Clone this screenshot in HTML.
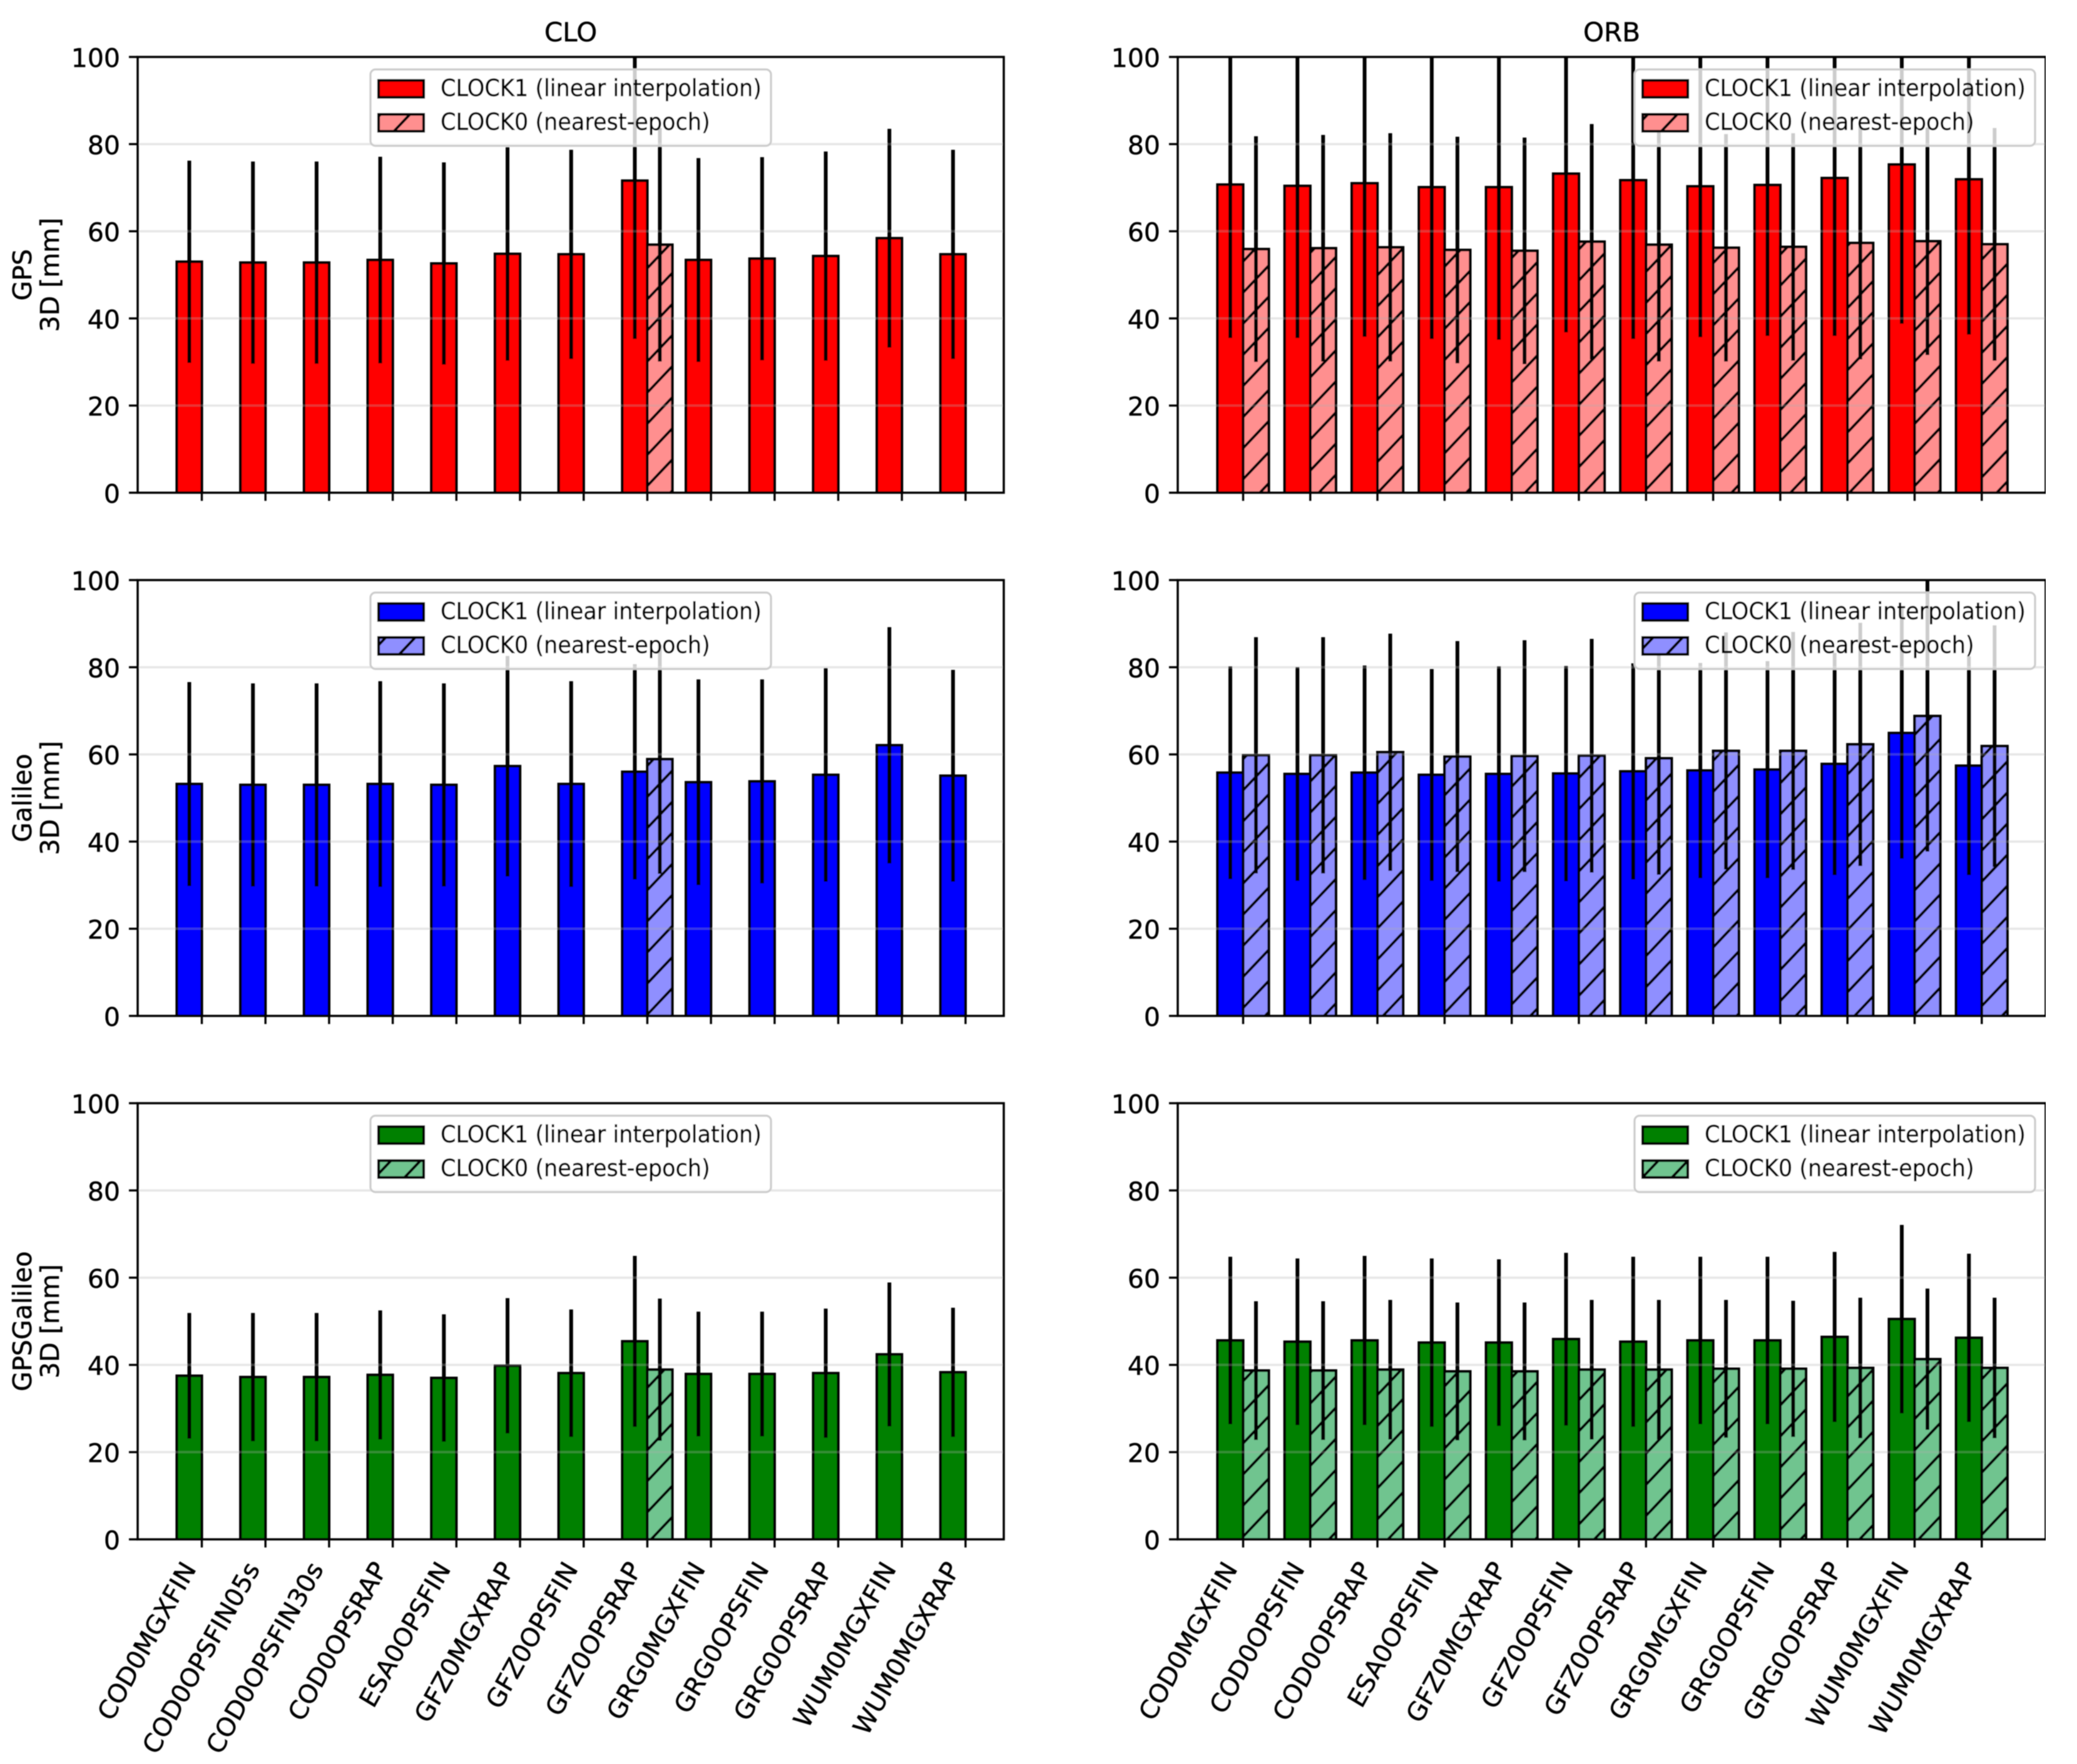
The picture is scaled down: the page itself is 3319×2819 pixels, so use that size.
<!DOCTYPE html>
<html lang="en">
<head>
<meta charset="utf-8">
<title>CLOCK1 vs CLOCK0 3D errors</title>
<style>
html,body{margin:0;padding:0;background:#fff;}
svg{display:block;}
text{font-family:"DejaVu Sans","Liberation Sans",sans-serif;fill:#000;stroke:#000;stroke-width:0.5px;}
</style>
</head>
<body>
<svg id="figure" xmlns="http://www.w3.org/2000/svg" width="3319" height="2819" viewBox="0 0 3319 2819">
<defs>
<pattern id="hatch" patternUnits="userSpaceOnUse" x="3168" y="2352" width="47.1" height="49.7">
<path d="M-4,4 L4,-4 M0,49.7 L47.1,0 M43.1,53.7 L51.1,45.7" stroke="#000" stroke-width="4.2" fill="none"/>
</pattern>
<filter id="soft" x="0" y="0" width="100%" height="100%"><feGaussianBlur stdDeviation="0.7"/></filter>
</defs>
<g id="root" filter="url(#soft)"></g>
</svg>
<script>
const categoriesCLO = ["COD0MGXFIN","COD0OPSFIN05s","COD0OPSFIN30s","COD0OPSRAP","ESA0OPSFIN","GFZ0MGXRAP","GFZ0OPSFIN","GFZ0OPSRAP","GRG0MGXFIN","GRG0OPSFIN","GRG0OPSRAP","WUM0MGXFIN","WUM0MGXRAP"];
const categoriesORB = ["COD0MGXFIN","COD0OPSFIN","COD0OPSRAP","ESA0OPSFIN","GFZ0MGXRAP","GFZ0OPSFIN","GFZ0OPSRAP","GRG0MGXFIN","GRG0OPSFIN","GRG0OPSRAP","WUM0MGXFIN","WUM0MGXRAP"];
const yTickValues = [0,20,40,60,80,100];
const legendLabels = ["CLOCK1 (linear interpolation)","CLOCK0 (nearest-epoch)"];

const gpsCloClock1 = [53.0,52.8,52.8,53.4,52.6,54.8,54.7,71.6,53.4,53.7,54.3,58.4,54.7];
const gpsCloClock1Err = [23.2,23.2,23.2,23.7,23.2,24.5,24.0,36.3,23.4,23.3,24.0,25.1,24.0];
const gpsCloClock0 = [null,null,null,null,null,null,null,56.9,null,null,null,null,null];
const gpsCloClock0Err = [null,null,null,null,null,null,null,26.8,null,null,null,null,null];

const gpsOrbClock1 = [70.7,70.4,71.0,70.1,70.1,73.2,71.7,70.3,70.6,72.2,75.3,71.9];
const gpsOrbClock1Err = [35.2,34.9,35.2,34.8,35.0,36.4,36.4,34.6,34.6,36.2,36.5,35.6];
const gpsOrbClock0 = [55.9,56.1,56.3,55.7,55.5,57.6,56.9,56.2,56.4,57.3,57.7,57.0];
const gpsOrbClock0Err = [25.9,26.0,26.2,26.0,26.0,27.0,26.8,26.1,26.1,26.7,26.1,26.7];

const galCloClock1 = [53.2,53.0,53.0,53.2,53.0,57.3,53.2,56.0,53.6,53.8,55.3,62.1,55.1];
const galCloClock1Err = [23.4,23.3,23.3,23.6,23.3,25.3,23.6,24.7,23.6,23.4,24.5,27.1,24.3];
const galCloClock0 = [null,null,null,null,null,null,null,58.9,null,null,null,null,null];
const galCloClock0Err = [null,null,null,null,null,null,null,26.3,null,null,null,null,null];

const galOrbClock1 = [55.8,55.5,55.8,55.3,55.5,55.6,56.1,56.3,56.5,57.8,64.9,57.4];
const galOrbClock1Err = [24.4,24.5,24.6,24.3,24.7,24.7,24.8,24.7,24.9,25.5,28.8,25.1];
const galOrbClock0 = [59.8,59.8,60.5,59.5,59.6,59.7,59.1,60.8,60.8,62.3,68.8,61.9];
const galOrbClock0Err = [27.1,27.1,27.2,26.5,26.6,26.8,26.7,27.2,27.3,27.9,31.1,27.7];

const bothCloClock1 = [37.5,37.2,37.2,37.7,37.0,39.8,38.1,45.4,37.9,37.9,38.1,42.4,38.3];
const bothCloClock1Err = [14.4,14.7,14.7,14.8,14.6,15.5,14.6,19.6,14.3,14.3,14.8,16.5,14.8];
const bothCloClock0 = [null,null,null,null,null,null,null,38.9,null,null,null,null,null];
const bothCloClock0Err = [null,null,null,null,null,null,null,16.3,null,null,null,null,null];

const bothOrbClock1 = [45.6,45.3,45.6,45.1,45.1,45.9,45.3,45.6,45.6,46.4,50.5,46.2];
const bothOrbClock1Err = [19.2,19.1,19.4,19.3,19.1,19.8,19.5,19.2,19.2,19.5,21.6,19.3];
const bothOrbClock0 = [38.7,38.7,38.9,38.5,38.5,38.9,38.9,39.1,39.1,39.3,41.3,39.3];
const bothOrbClock0Err = [15.9,15.9,16.0,15.8,15.8,16.0,16.0,15.8,15.6,16.1,16.2,16.1];

const SVGNS = "http://www.w3.org/2000/svg";
const root = document.getElementById("root");
const defs = document.querySelector("defs");

const columns = {
  clo: {left:220, right:1604, tick0:322.5, step:101.7, barW:40, cats:categoriesCLO},
  orb: {left:1882, right:3269, tick0:1986.5, step:107.3, barW:41, cats:categoriesORB}
};
const rows = [
  {top:91, bottom:787.4, color:"#ff0000", light:"#ff8f8f", name:"gps", label:"GPS"},
  {top:927, bottom:1623.5, color:"#0000ff", light:"#8f8fff", name:"galileo", label:"Galileo"},
  {top:1763, bottom:2460, color:"#008000", light:"#70c48f", name:"gpsgalileo", label:"GPSGalileo"}
];

function xScale(col, i){ return col.tick0 + col.step * i; }
function yScale(row, v){ return row.bottom - (row.bottom - row.top) * v / 100; }

function mk(tag, attrs, parent){
  const e = document.createElementNS(SVGNS, tag);
  for (const k in attrs) e.setAttribute(k, attrs[k]);
  (parent || root).appendChild(e);
  return e;
}

function drawSeries(g, row, col, values, errs, side, isHatched, id){
  values.forEach(function(v, i){
    if (v === null) return;
    const t = xScale(col, i);
    const x = side < 0 ? t - col.barW : t;
    const y = yScale(row, v);
    const h = row.bottom - y;
    const bar = mk("rect", {x:x, y:y, width:col.barW, height:h, fill:isHatched ? row.light : row.color}, g);
    
    
    if (isHatched) {
      const hat = mk("rect", {x:x, y:y, width:col.barW, height:h, fill:"url(#hatch)"}, g);
      
      
    }
    const edge = mk("rect", {x:x, y:y, width:col.barW, height:h, fill:"none", stroke:"#000", "stroke-width":4.2}, g);
    
    
  });
}

function drawErrors(g, row, col, values, errs, side){
  values.forEach(function(v, i){
    if (v === null) return;
    const cx = xScale(col, i) + side * col.barW / 2;
    const line = mk("line", {x1:cx, x2:cx, y1:yScale(row, v + errs[i]), y2:yScale(row, v - errs[i]), stroke:"#000", "stroke-width":6}, g);
    
    
  });
}

function drawPanel(key, rowIdx, s1, e1, s0, e0, title){
  const col = columns[key];
  const row = rows[rowIdx];
  const w = col.right - col.left;
  const h = row.bottom - row.top;

  const panel = mk("g", {});
  
  

  const clip = mk("clipPath", {id:"clip-" + key + rowIdx}, defs);
  mk("rect", {x:col.left, y:row.top, width:w, height:h}, clip);

  const plot = mk("g", {"clip-path":"url(#clip-" + key + rowIdx + ")"}, panel);
  
  

  drawSeries(plot, row, col, s1, e1, -1, false);
  drawSeries(plot, row, col, s0, e0, 1, true);
  drawErrors(plot, row, col, s1, e1, -1);
  drawErrors(plot, row, col, s0, e0, 1);

  yTickValues.forEach(function(v){
    const y = yScale(row, v);
    if (v > 0 && v < 100) {
      const gl = mk("line", {x1:col.left, x2:col.right, y1:y, y2:y, stroke:"#b0b0b0", "stroke-width":3.6, "stroke-opacity":0.3}, panel);
      
      
    }
    const tk = mk("line", {x1:col.left - 14, x2:col.left, y1:y, y2:y, stroke:"#000", "stroke-width":3.4}, panel);
    
    
    const lb = mk("text", {x:col.left - 28, y:y + 16, "text-anchor":"end", "font-size":41}, panel);
    
    
    lb.textContent = String(v);
  });

  col.cats.forEach(function(name, i){
    const x = xScale(col, i);
    const tk = mk("line", {x1:x, x2:x, y1:row.bottom, y2:row.bottom + 13, stroke:"#000", "stroke-width":3.4}, panel);
    
    
    if (rowIdx === 2) {
      const ex = x - 8, ey = row.bottom + 47;
      const lb = mk("text", {x:0, y:0, "text-anchor":"end", "font-size":41.5, transform:"translate(" + ex + "," + ey + ") scale(0.96,1) rotate(-60)"}, panel);
      
      
      lb.textContent = name;
    }
  });

  const frame = mk("rect", {x:col.left, y:row.top, width:w, height:h, fill:"none", stroke:"#000", "stroke-width":3.5}, panel);
  
  

  const legW = 640, legH = 122;
  const legX = key === "clo" ? (col.left + col.right) / 2 - legW / 2 : col.right - 17 - legW;
  const legY = row.top + 20;
  const legend = mk("g", {}, panel);
  
  
  const box = mk("rect", {x:legX, y:legY, width:legW, height:legH, rx:8, ry:8, fill:"#fff", "fill-opacity":0.8, stroke:"#cccccc", "stroke-width":3.2}, legend);
  
  
  legendLabels.forEach(function(txt, k){
    const hy = legY + 17.5 + k * 54.2;
    const swatch = mk("rect", {x:legX + 13, y:hy, width:72, height:27, fill:k ? row.light : row.color}, legend);
    
    
    if (k) {
      const sh = mk("rect", {x:legX + 13, y:hy, width:72, height:27, fill:"url(#hatch)"}, legend);
      
      
    }
    const se = mk("rect", {x:legX + 13, y:hy, width:72, height:27, fill:"none", stroke:"#000", "stroke-width":4.2}, legend);
    
    
    const lt = mk("text", {x:0, y:0, "font-size":37, transform:"translate(" + (legX + 112) + "," + (hy + 25) + ") scale(0.948,1)"}, legend);
    
    
    lt.textContent = txt;
  });

  if (title) {
    const t = mk("text", {x:(col.left + col.right) / 2, y:66, "text-anchor":"middle", "font-size":42}, panel);
    
    
    t.textContent = title;
  }

  if (key === "clo") {
    const cy = (row.top + row.bottom) / 2;
    const a = mk("text", {x:0, y:0, "text-anchor":"middle", "font-size":41, transform:"translate(50," + cy + ") rotate(-90)"}, panel);
    
    
    a.textContent = row.label;
    const b = mk("text", {x:0, y:0, "text-anchor":"middle", "font-size":41, transform:"translate(94," + cy + ") rotate(-90)"}, panel);
    
    
    b.textContent = "3D [mm]";
  }
}

drawPanel("clo", 0, gpsCloClock1, gpsCloClock1Err, gpsCloClock0, gpsCloClock0Err, "CLO");
drawPanel("orb", 0, gpsOrbClock1, gpsOrbClock1Err, gpsOrbClock0, gpsOrbClock0Err, "ORB");
drawPanel("clo", 1, galCloClock1, galCloClock1Err, galCloClock0, galCloClock0Err);
drawPanel("orb", 1, galOrbClock1, galOrbClock1Err, galOrbClock0, galOrbClock0Err);
drawPanel("clo", 2, bothCloClock1, bothCloClock1Err, bothCloClock0, bothCloClock0Err);
drawPanel("orb", 2, bothOrbClock1, bothOrbClock1Err, bothOrbClock0, bothOrbClock0Err);
</script>
</body>
</html>
